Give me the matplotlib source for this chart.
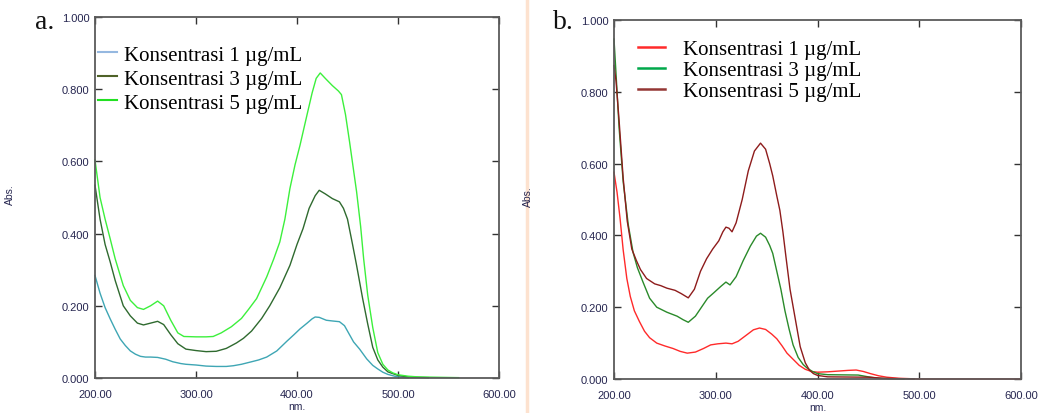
import matplotlib
matplotlib.use("Agg")
import matplotlib.pyplot as plt
from matplotlib.lines import Line2D
from matplotlib.ticker import FormatStrFormatter

# ---------------- data ----------------
labels = ["Konsentrasi 1 \u00b5g/mL", "Konsentrasi 3 \u00b5g/mL", "Konsentrasi 5 \u00b5g/mL"]

# Panel a
wl_a1 = [200, 205, 210, 215, 220, 225, 230, 235, 240, 245, 250, 255, 262, 270, 277, 285, 290, 300,
         310, 320, 330, 337, 345, 355, 362, 370, 380, 390, 397, 403, 410, 415, 418, 422, 429, 435,
         442, 447, 451, 456, 462, 469, 475, 480, 485, 490, 498, 505, 510]
abs_a1 = [0.284, 0.235, 0.195, 0.164, 0.135, 0.108, 0.090, 0.075, 0.066, 0.060, 0.058, 0.058, 0.057,
          0.052, 0.045, 0.040, 0.038, 0.036, 0.033, 0.032, 0.032, 0.034, 0.038, 0.045, 0.050, 0.058,
          0.075, 0.102, 0.120, 0.136, 0.152, 0.164, 0.169, 0.168, 0.160, 0.158, 0.156, 0.145, 0.125,
          0.100, 0.080, 0.053, 0.035, 0.025, 0.016, 0.010, 0.004, 0.002, 0.001]

wl_a3 = [200, 205, 210, 215, 220, 228, 235, 242, 248, 255, 262, 268, 275, 282, 290, 300, 310, 320,
         330, 340, 347, 355, 365, 373, 383, 393, 400, 406, 412, 418, 422, 428, 435, 442, 446, 450,
         455, 459, 465, 470, 475, 480, 485, 490, 500, 510, 520, 530]
abs_a3 = [0.534, 0.440, 0.370, 0.322, 0.270, 0.200, 0.172, 0.152, 0.147, 0.152, 0.157, 0.148, 0.120,
          0.095, 0.080, 0.076, 0.073, 0.074, 0.082, 0.097, 0.110, 0.130, 0.165, 0.200, 0.250, 0.312,
          0.370, 0.414, 0.470, 0.505, 0.520, 0.510, 0.497, 0.488, 0.470, 0.440, 0.370, 0.312, 0.220,
          0.150, 0.085, 0.050, 0.030, 0.017, 0.007, 0.003, 0.002, 0.001]

wl_a5 = [200, 205, 210, 215, 220, 228, 235, 242, 248, 255, 262, 268, 275, 282, 288, 300, 310, 317,
         325, 335, 345, 352, 360, 370, 377, 383, 388, 393, 398, 403, 410, 415, 419, 423, 428, 435,
         441, 444, 448, 452, 459, 463, 466, 470, 475, 480, 485, 490, 495, 500, 510, 520, 540, 560]
abs_a5 = [0.604, 0.500, 0.440, 0.386, 0.330, 0.256, 0.215, 0.195, 0.190, 0.200, 0.213, 0.200, 0.160,
          0.125, 0.115, 0.114, 0.114, 0.115, 0.125, 0.142, 0.165, 0.190, 0.220, 0.280, 0.330, 0.377,
          0.440, 0.525, 0.590, 0.645, 0.730, 0.790, 0.830, 0.845, 0.830, 0.810, 0.795, 0.785, 0.730,
          0.655, 0.516, 0.420, 0.330, 0.230, 0.140, 0.070, 0.038, 0.022, 0.014, 0.009, 0.005, 0.003,
          0.002, 0.001]

# Panel b
wl_b1 = [200, 203, 206, 209, 212.6, 216, 220, 225, 230, 235, 242, 250, 258, 265, 272, 280, 288, 295,
         302, 310, 316, 322, 330, 337, 343, 349, 355, 360, 365, 370, 376, 382, 388, 394, 400, 410,
         420, 430, 438, 445, 452, 460, 468, 480, 490, 500, 600]
abs_b1 = [0.576, 0.520, 0.446, 0.360, 0.280, 0.230, 0.190, 0.160, 0.133, 0.115, 0.100, 0.092, 0.085,
          0.077, 0.072, 0.075, 0.085, 0.095, 0.098, 0.100, 0.098, 0.105, 0.122, 0.137, 0.142, 0.138,
          0.125, 0.112, 0.093, 0.072, 0.055, 0.038, 0.027, 0.021, 0.019, 0.020, 0.022, 0.024, 0.025,
          0.021, 0.015, 0.009, 0.005, 0.002, 0.001, 0.000, 0.000]

wl_b3 = [200, 202, 205, 209, 214, 218.7, 223, 228.5, 235, 242, 252, 262, 268, 273, 280, 286, 292,
         298, 305, 310, 314, 320, 327, 334, 340, 344, 349, 353, 356, 360, 364, 368, 372, 376, 381,
         386, 390, 395, 400, 410, 440, 450, 460, 470, 485]
abs_b3 = [0.947, 0.850, 0.700, 0.550, 0.430, 0.353, 0.310, 0.270, 0.225, 0.200, 0.186, 0.175, 0.165,
          0.158, 0.175, 0.200, 0.225, 0.240, 0.258, 0.270, 0.262, 0.285, 0.330, 0.370, 0.398, 0.406,
          0.395, 0.372, 0.350, 0.300, 0.250, 0.190, 0.140, 0.095, 0.060, 0.040, 0.030, 0.021, 0.015,
          0.012, 0.011, 0.006, 0.002, 0.001, 0.000]

wl_b5 = [200, 202, 205, 209, 213, 217.5, 222, 226, 232, 240, 246, 252, 260, 266, 273, 279, 285, 291,
         297, 303, 307, 310, 313, 316, 320, 326, 332, 338, 344, 349, 353, 356, 360, 363, 366, 369,
         373, 378, 383, 388, 392, 396, 400, 410, 450, 465, 480, 495]
abs_b5 = [0.873, 0.830, 0.720, 0.560, 0.440, 0.362, 0.330, 0.305, 0.280, 0.265, 0.260, 0.253, 0.247,
          0.238, 0.226, 0.250, 0.300, 0.335, 0.362, 0.385, 0.410, 0.423, 0.420, 0.410, 0.435, 0.500,
          0.580, 0.635, 0.657, 0.640, 0.600, 0.566, 0.510, 0.470, 0.410, 0.340, 0.250, 0.170, 0.090,
          0.045, 0.025, 0.015, 0.010, 0.006, 0.005, 0.002, 0.001, 0.000]

x_ticks = [200, 300, 400, 500, 600]
y_ticks = [0.0, 0.2, 0.4, 0.6, 0.8, 1.0]

# ---------------- styles ----------------
line_cols_a = ["#3ea6b4", "#2f6a2f", "#3cf03c"]
legend_cols_a = ["#95b8e0", "#4f6228", "#22e022"]
line_cols_b = ["#ff2a2a", "#2a8a2a", "#8e1c1c"]
legend_cols_b = ["#ff2a2a", "#00a84a", "#943634"]

tick_col = "#262650"
spine_col = "#5a5a5a"
sans = ["Liberation Sans", "DejaVu Sans"]
serif = ["Liberation Serif", "DejaVu Serif"]

fig = plt.figure(figsize=(10.45, 4.14), dpi=100)
fig.patch.set_facecolor("white")

# faint divider between panels
fig.add_artist(Line2D([527 / 1045, 527 / 1045], [0, 1], color="#fde2cf", lw=2.5,
                      transform=fig.transFigure, zorder=0))

ax_a = fig.add_axes([95 / 1045, 1 - 379 / 414, 404 / 1045, 361 / 414])
ax_b = fig.add_axes([614 / 1045, 1 - 380 / 414, 407 / 1045, 359 / 414])


def style(ax):
    ax.set_xlim(200, 600)
    ax.set_ylim(0, 1.0)
    ax.set_xticks(x_ticks)
    ax.set_yticks(y_ticks)
    ax.xaxis.set_major_formatter(FormatStrFormatter("%.2f"))
    ax.yaxis.set_major_formatter(FormatStrFormatter("%.3f"))
    ax.tick_params(direction="in", length=5, width=1, color="#333333",
                   top=True, right=True, labelsize=8, labelcolor=tick_col)
    ax.tick_params(axis="x", pad=8)
    ax.tick_params(axis="y", pad=4)
    for lab in ax.get_xticklabels() + ax.get_yticklabels():
        lab.set_family(sans)
    for s in ax.spines.values():
        s.set_color(spine_col)
        s.set_linewidth(1.3)
    ax.set_xlabel("nm.", fontsize=7.5, color=tick_col, family=sans)
    ax.set_ylabel("Abs.", fontsize=7.5, color=tick_col, family=sans)
    ax.xaxis.set_label_coords(0.5, -0.064)
    ax.yaxis.set_label_coords(-0.198, 0.51)


style(ax_a)
style(ax_b)

for wl, ab, c in zip([wl_a1, wl_a3, wl_a5], [abs_a1, abs_a3, abs_a5], line_cols_a):
    ax_a.plot(wl, ab, color=c, lw=1.0, clip_on=False)
for wl, ab, c in zip([wl_b1, wl_b3, wl_b5], [abs_b1, abs_b3, abs_b5], line_cols_b):
    ax_b.plot(wl, ab, color=c, lw=1.0, clip_on=False)

hand_a = [Line2D([], [], color=c, lw=1.5) for c in legend_cols_a]
hand_b = [Line2D([], [], color=c, lw=1.8) for c in legend_cols_b]
leg_a = ax_a.legend(hand_a, labels, loc="upper left", bbox_to_anchor=(0.007, 0.922),
                    frameon=False, borderpad=0, borderaxespad=0, handlelength=0.92,
                    handletextpad=0.33, labelspacing=0.21, prop={"family": serif, "size": 15})
leg_b = ax_b.legend(hand_b, labels, loc="upper left", bbox_to_anchor=(0.059, 0.945),
                    frameon=False, borderpad=0, borderaxespad=0, handlelength=1.3,
                    handletextpad=0.87, labelspacing=0.06, prop={"family": serif, "size": 15})

fig.text(35 / 1045, 1 - 29 / 414, "a.", fontsize=20, family=serif, color="#111111")
fig.text(553 / 1045, 1 - 29 / 414, "b.", fontsize=20, family=serif, color="#111111")

fig.savefig("out.png", dpi=100, facecolor="white")
